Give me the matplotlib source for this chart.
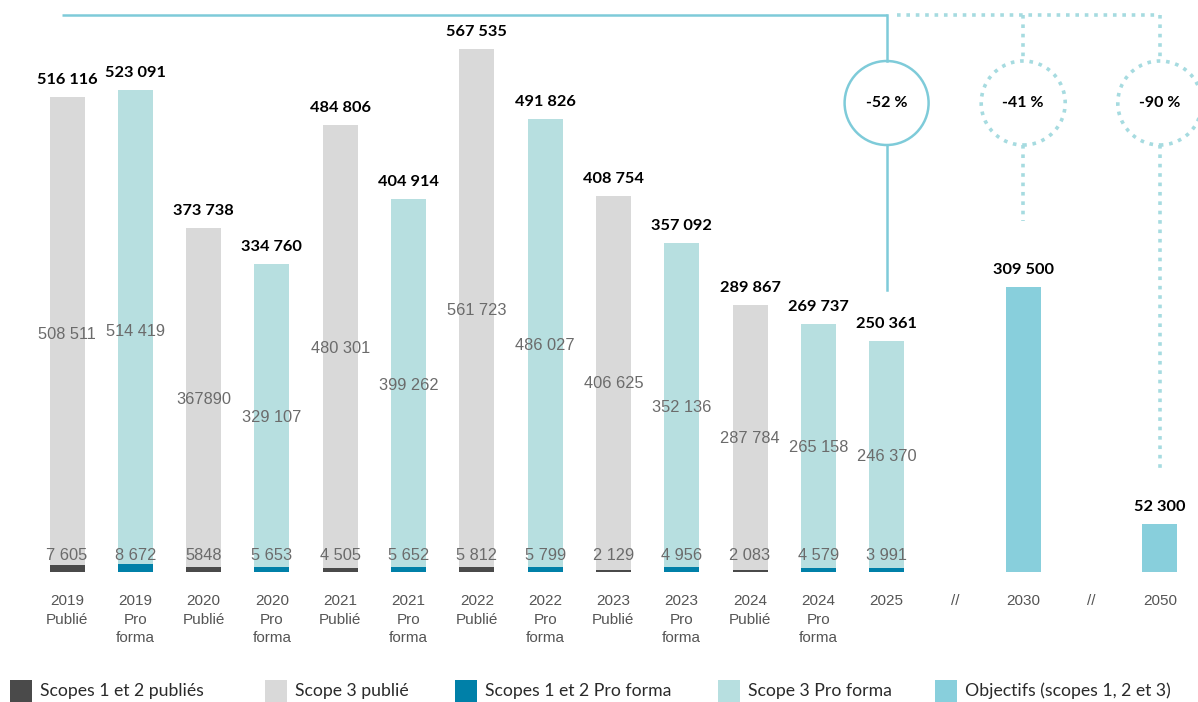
import matplotlib.pyplot as plt
from matplotlib.patches import Rectangle, Ellipse

# emissions (tCO2e) par catégorie
categories = ["2019\nPublié", "2019\nPro\nforma", "2020\nPublié", "2020\nPro\nforma",
              "2021\nPublié", "2021\nPro\nforma", "2022\nPublié", "2022\nPro\nforma",
              "2023\nPublié", "2023\nPro\nforma", "2024\nPublié", "2024\nPro\nforma", "2025"]
kinds = ["pub", "pf", "pub", "pf", "pub", "pf", "pub", "pf", "pub", "pf", "pub", "pf", "pf"]
scope12 = [7605, 8672, 5848, 5653, 4505, 5652, 5812, 5799, 2129, 4956, 2083, 4579, 3991]
scope3 = [508511, 514419, 367890, 329107, 480301, 399262, 561723, 486027,
          406625, 352136, 287784, 265158, 246370]
ungrouped = {"2020\nPublié"}

target_years = ["2030", "2050"]
targets = [309500, 52300]
reductions = ["-41 %", "-90 %"]
reduction_2025 = "-52 %"

legend_labels = ["Scopes 1 et 2 publiés", "Scope 3 publié", "Scopes 1 et 2 Pro forma",
                 "Scope 3 Pro forma", "Objectifs (scopes 1, 2 et 3)"]

DARK = "#4a4a4a"
GREY = "#d9d9d9"
BLUE = "#0080a8"
LTEAL = "#b7dfe0"
TARGET = "#88cfdc"
LINE = "#7ecbd9"
DOTS = "#a6dbe0"
colors12 = {"pub": DARK, "pf": BLUE}
colors3 = {"pub": GREY, "pf": LTEAL}

W, H = 1198, 702
S = 68.3      # px per slot
X0 = 67       # px of first bar centre
BASE = 572    # px of baseline
K = 0.000921  # px per tonne


def px_x(p):
    return p / S


def px_y(p):
    return p / K


def fmt(v, group=True):
    return f"{v:,}".replace(",", " ") if group else str(v)


fig = plt.figure(figsize=(W / 100, H / 100), dpi=100)
ax = fig.add_axes([0, 0, 1, 1])
ax.set_xlim(-X0 / S, (W - X0) / S)
ax.set_ylim((BASE - H) / K, BASE / K)
ax.axis("off")

bw = px_x(35)
num_font = ["Liberation Sans", "DejaVu Sans"]
bold_font = ["Lato", "DejaVu Sans"]
tick_kw = dict(ha="center", va="top", fontsize=11, family=num_font,
               color="#555555", linespacing=1.42)

xs = list(range(len(categories)))
for x, cat, k, s12, s3 in zip(xs, categories, kinds, scope12, scope3):
    tot = s12 + s3
    g = cat not in ungrouped
    ax.bar(x, s12, width=bw, color=colors12[k], linewidth=0)
    ax.bar(x, s3, bottom=s12, width=bw, color=colors3[k], linewidth=0)
    ax.text(x, tot + px_y(10), fmt(tot), ha="center", va="bottom", fontsize=11.8,
            fontweight="bold", family=bold_font, color="black")
    ax.text(x, tot / 2, fmt(s3, g), ha="center", va="center", fontsize=11.8,
            family=num_font, color="#6b6b6b")
    ax.text(x, px_y(16), fmt(s12, g), ha="center", va="center", fontsize=11.8,
            family=num_font, color="#6b6b6b")
    ax.text(x, -px_y(22), cat, **tick_kw)

# objectifs
tx = [len(categories) + 1, len(categories) + 3]
for x, yr, v in zip(tx, target_years, targets):
    ax.bar(x, v, width=bw, color=TARGET, linewidth=0)
    ax.text(x, v + px_y(10), fmt(v), ha="center", va="bottom", fontsize=11.8,
            fontweight="bold", family=bold_font, color="black")
    ax.text(x, -px_y(22), yr, **tick_kw)
for x in (tx[0] - 1, tx[1] - 1):
    ax.text(x, -px_y(22), "//", **tick_kw)

# connecteurs
top = px_y(BASE - 15)
cy = px_y(BASE - 103)
r_y = px_y(42)
r_x = px_x(42)
x25 = xs[-1]
tot25 = scope12[-1] + scope3[-1]
ax.plot([-0.07, x25], [top, top], color=LINE, lw=1.8, solid_capstyle="butt")
ax.plot([x25, x25], [top, cy + r_y], color=LINE, lw=1.8)
ax.plot([x25, x25], [cy - r_y, tot25 + px_y(51)], color=LINE, lw=1.8)
ax.add_patch(Ellipse((x25, cy), 2 * r_x, 2 * r_y, fill=False, edgecolor=LINE, lw=1.8))
ax.text(x25, cy, reduction_2025, ha="center", va="center", fontsize=11.5,
        fontweight="bold", family=bold_font)

dot = dict(color=DOTS, lw=2.6, linestyle=(0, (1, 1.6)), dash_capstyle="butt")
ax.plot([x25 + px_x(10), tx[1]], [top, top], **dot)
gaps = [66, 54]
for x, v, lab, gp in zip(tx, targets, reductions, gaps):
    ax.plot([x, x], [top, cy + r_y], **dot)
    ax.plot([x, x], [cy - r_y, v + px_y(gp)], **dot)
    ax.add_patch(Ellipse((x, cy), 2 * r_x, 2 * r_y, fill=False, edgecolor=DOTS,
                         lw=2.6, linestyle=(0, (1, 1.6))))
    ax.text(x, cy, lab, ha="center", va="center", fontsize=11.5,
            fontweight="bold", family=bold_font)

# légende
leg_colors = [DARK, GREY, BLUE, LTEAL, TARGET]
leg_x = [10, 265, 455, 718, 935]
for lx, c, lab in zip(leg_x, leg_colors, legend_labels):
    fig.patches.append(Rectangle((lx / W, 0), 22 / W, 22 / H, transform=fig.transFigure,
                                 color=c, linewidth=0))
    fig.text((lx + 30) / W, 11 / H, lab, ha="left", va="center", fontsize=12.7,
             family=bold_font, color="#2a2a2a")

fig.savefig("out.png", dpi=100)
